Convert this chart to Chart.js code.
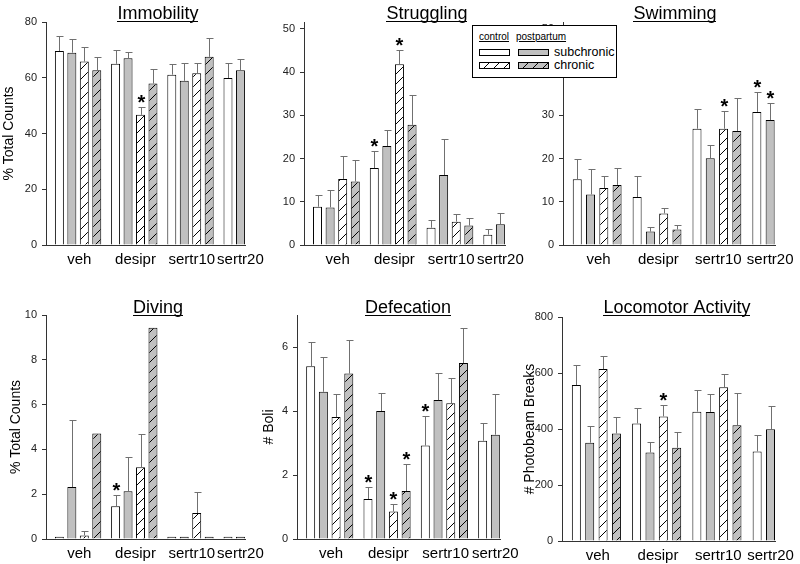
<!DOCTYPE html>
<html>
<head>
<meta charset="utf-8">
<script src="https://cdn.jsdelivr.net/npm/chart.js@4.4.1/dist/chart.umd.min.js"></script>
<style>
  body { margin: 0; background: #fff; width: 800px; height: 564px; position: relative; overflow: hidden;
         font-family: "Liberation Sans", Arial, sans-serif; }
  .panel { position: absolute; }
  #legend { position: absolute; left: 472px; top: 25px; width: 143px; height: 51px; border: 1px solid #000;
            background: #fff; z-index: 10; }
  #legend span { position: absolute; white-space: nowrap; line-height: 1; }
  #legend .hd { font-size: 10px; text-decoration: underline; top: 6px; }
  #legend .it { font-size: 12.5px; }
  #legend .sw { position: absolute; width: 29px; height: 5px; border: 1px solid #000; }
  .white { background: #fff; }
  .gray { background: #c0c0c0; }
  .whiteH { background: repeating-linear-gradient(135deg, #fff 0px, #fff 6px, #000 6px, #000 7.07px); }
  .grayH { background: repeating-linear-gradient(135deg, #c0c0c0 0px, #c0c0c0 6px, #000 6px, #000 7.07px); }
</style>
</head>
<body>
<div class="panel" style="left:0;top:0;width:270px;height:282px"><canvas id="immobility"></canvas></div>
<div class="panel" style="left:280px;top:0;width:250px;height:282px"><canvas id="struggling"></canvas></div>
<div class="panel" style="left:535px;top:0;width:265px;height:282px"><canvas id="swimming"></canvas></div>
<div class="panel" style="left:0;top:282px;width:270px;height:282px"><canvas id="diving"></canvas></div>
<div class="panel" style="left:255px;top:282px;width:270px;height:282px"><canvas id="defecation"></canvas></div>
<div class="panel" style="left:515px;top:282px;width:285px;height:282px"><canvas id="locomotor"></canvas></div>

<div id="legend">
  <span class="hd" style="left:6px">control</span>
  <span class="hd" style="left:43px">postpartum</span>
  <div class="sw white" style="left:6px;top:23px"></div>
  <div class="sw gray" style="left:45px;top:23px"></div>
  <span class="it" style="left:81px;top:20px">subchronic</span>
  <div class="sw whiteH" style="left:6px;top:36px"></div>
  <div class="sw grayH" style="left:45px;top:36px"></div>
  <span class="it" style="left:81px;top:33px">chronic</span>
</div>

<script>
const groups = ['veh', 'desipr', 'sertr10', 'sertr20'];
const seriesNames = ['control subchronic', 'postpartum subchronic', 'control chronic', 'postpartum chronic'];

// Immobility (% total counts)
const immCtrlSub = [69.6, 65.0, 61.1, 59.9];
const immPostSub = [69.0, 67.0, 58.9, 62.7];
const immCtrlChr = [65.8, 46.7, 61.6, null];
const immPostChr = [62.7, 57.9, 67.5, null];
const immSemCtrlSub = [5.4, 5.0, 3.7, 5.5];
const immSemPostSub = [4.8, 2.4, 6.5, 4.0];
const immSemCtrlChr = [5.4, 2.9, 3.8, null];
const immSemPostChr = [4.8, 5.3, 6.9, null];
const immSig = [[2, 1]]; // [series, group]

// Struggling
const strCtrlSub = [8.85, 17.8, 4.0, 2.4];
const strPostSub = [8.7, 22.9, 16.2, 4.8];
const strCtrlChr = [15.3, 41.8, 5.4, null];
const strPostChr = [14.7, 27.8, 4.5, null];
const strSemCtrlSub = [2.7, 4.0, 1.8, 1.4];
const strSemPostSub = [4.0, 3.8, 8.3, 2.7];
const strSemCtrlChr = [5.4, 3.4, 1.8, null];
const strSemPostChr = [4.9, 7.0, 1.7, null];
const strSig = [[0, 1], [2, 1]];

// Swimming
const swmCtrlSub = [15.2, 11.1, 26.9, 30.8];
const swmPostSub = [11.7, 3.1, 20.1, 28.9];
const swmCtrlChr = [13.2, 7.3, 26.9, null];
const swmPostChr = [13.9, 3.6, 26.4, null];
const swmSemCtrlSub = [4.7, 4.8, 4.6, 4.5];
const swmSemPostSub = [6.0, 1.1, 3.1, 3.9];
const swmSemCtrlChr = [2.7, 1.2, 4.1, null];
const swmSemPostChr = [3.9, 1.0, 7.6, null];
const swmSig = [[0, 3], [1, 3], [2, 2]];

// Diving
const divCtrlSub = [0.1, 1.46, 0.1, 0.1];
const divPostSub = [2.32, 2.13, 0.1, 0.1];
const divCtrlChr = [0.16, 3.2, 1.16, null];
const divPostChr = [4.71, 9.43, 0.1, null];
const divSemCtrlSub = [null, 0.51, null, null];
const divSemPostSub = [3.0, 1.52, null, null];
const divSemCtrlChr = [0.2, 1.5, 0.94, null];
const divSemPostChr = [null, null, null, null];
const divSig = [[0, 1]];

// Defecation (# boli)
const defCtrlSub = [5.40, 1.25, 2.92, 3.07];
const defPostSub = [4.6, 4.0, 4.34, 3.26];
const defCtrlChr = [3.81, 0.86, 4.24, null];
const defPostChr = [5.17, 1.5, 5.5, null];
const defSemCtrlSub = [0.77, 0.38, 0.92, 0.57];
const defSemPostSub = [1.1, 0.57, 0.86, 1.28];
const defSemCtrlChr = [0.73, 0.22, 0.8, null];
const defSemPostChr = [1.04, 0.85, 1.1, null];
const defSig = [[0, 1], [2, 1], [3, 1], [0, 2]];

// Locomotor activity (# photobeam breaks)
const locCtrlSub = [557, 420, 462, 320];
const locPostSub = [351, 316, 461, 399];
const locCtrlChr = [614, 445, 549, null];
const locPostChr = [384, 333, 413, null];
const locSemCtrlSub = [70, 56, 78, 60];
const locSemPostSub = [59, 39, 63, 82];
const locSemCtrlChr = [46, 41, 49, null];
const locSemPostChr = [60, 57, 114, null];
const locSig = [[2, 1]];

const FONT = '"Liberation Sans", Arial, sans-serif';
Chart.defaults.font.family = FONT;

// bar layout in units of one bar slot
const GROUP_STEP = 4.51;
const X_MIN = -1.074, X_MAX = 14.93;
const barX = (g, s) => g * GROUP_STEP + s;
const labelPos = groups.map((_, g) => g < 3 ? barX(g, 1.6) : barX(g, 1.0));

function hatch(bg) {
  const c = document.createElement('canvas');
  c.width = c.height = 10;
  const x = c.getContext('2d');
  x.fillStyle = bg;
  x.fillRect(0, 0, 10, 10);
  x.strokeStyle = '#000';
  x.lineWidth = 1;
  x.beginPath();
  x.moveTo(0, 10); x.lineTo(10, 0);
  x.moveTo(-1, 1); x.lineTo(1, -1);
  x.moveTo(9, 11); x.lineTo(11, 9);
  x.stroke();
  return x.createPattern(c, 'repeat');
}
const fills = ['#ffffff', '#c0c0c0', hatch('#ffffff'), hatch('#c0c0c0')];

// error bars, asterisks and underlined titles
const decoPlugin = {
  id: 'deco',
  afterDatasetsDraw(chart, args, opts) {
    const ctx = chart.ctx, y = chart.scales.y;
    ctx.save();
    chart.data.datasets.forEach((ds, i) => {
      chart.getDatasetMeta(i).data.forEach((bar, j) => {
        const v = ds.data[j].y;
        if (v == null) return;
        const cx = Math.round(bar.x) + 0.5;
        let top = bar.y;
        const sem = ds.sem[j];
        if (sem != null) {
          const ye = Math.round(y.getPixelForValue(v + sem)) + 0.5;
          ctx.strokeStyle = '#707070';
          ctx.lineWidth = 1;
          ctx.beginPath();
          ctx.moveTo(cx, bar.y);
          ctx.lineTo(cx, ye);
          ctx.moveTo(cx - 3, ye);
          ctx.lineTo(cx + 4, ye);
          ctx.stroke();
          top = ye;
        }
        if (ds.sig[j]) {
          ctx.fillStyle = '#000';
          ctx.font = 'bold 20px ' + FONT;
          ctx.textAlign = 'center';
          ctx.textBaseline = 'alphabetic';
          ctx.fillText('*', cx, top + 1);
        }
      });
    });
    ctx.fillStyle = '#000';
    ctx.font = '18px ' + FONT;
    ctx.textAlign = 'center';
    ctx.textBaseline = 'alphabetic';
    ctx.fillText(opts.title, opts.tx, opts.ty);
    const w = ctx.measureText(opts.title).width;
    ctx.fillRect(Math.round(opts.tx - w / 2), Math.round(opts.ty + 2), Math.round(w), 1);
    ctx.restore();
  }
};

function panel(id, p) {
  const datasets = p.values.map((vals, s) => ({
    label: seriesNames[s],
    data: vals.map((v, g) => ({ x: barX(g, s), y: v })),
    sem: p.sems[s],
    sig: vals.map((v, g) => p.sig.some(([ss, gg]) => ss === s && gg === g)),
    backgroundColor: fills[s],
    borderColor: '#000',
    borderWidth: 1,
    maxBarThickness: 9,
    grouped: false
  }));

  new Chart(document.getElementById(id), {
    type: 'bar',
    data: { datasets },
    plugins: [decoPlugin],
    options: {
      responsive: true,
      maintainAspectRatio: false,
      animation: false,
      layout: { padding: { left: 0, right: p.padR, top: p.padTop, bottom: 0 } },
      plugins: {
        legend: { display: false },
        tooltip: { enabled: false },
        deco: { title: p.title, tx: p.tx, ty: p.ty }
      },
      scales: {
        x: {
          type: 'linear',
          offset: false,
          min: X_MIN,
          max: X_MAX,
          afterFit(s) { s.height = p.xh; },
          afterBuildTicks(s) { s.ticks = labelPos.map(v => ({ value: v })); },
          ticks: {
            callback: (v, i) => groups[i],
            autoSkip: false, maxRotation: 0, padding: 6,
            font: { size: 15 }, color: '#000'
          },
          grid: { display: false, drawTicks: false },
          border: { display: true, color: '#333' }
        },
        y: {
          min: 0,
          max: p.yMax,
          afterFit(s) { s.width = p.yw; },
          ticks: { stepSize: p.yStep, includeBounds: false, padding: 5, font: { size: 11 }, color: '#222' },
          grid: { drawOnChartArea: false, drawTicks: true, tickLength: 4, color: '#333' },
          border: { display: true, color: '#333' },
          title: {
            display: !!p.yTitle, text: p.yTitle || '',
            font: { size: 14 }, color: '#000',
            padding: { top: p.yTitlePad || 0, bottom: 0 }
          }
        }
      }
    }
  });
}

panel('immobility', {
  title: 'Immobility', tx: 158, ty: 19,
  values: [immCtrlSub, immPostSub, immCtrlChr, immPostChr],
  sems: [immSemCtrlSub, immSemPostSub, immSemCtrlChr, immSemPostChr],
  sig: immSig, yMax: 80, yStep: 20, yTitle: '% Total Counts', yTitlePad: 1,
  yw: 46, padR: 8, padTop: 22, xh: 37
});
panel('struggling', {
  title: 'Struggling', tx: 147, ty: 19,
  values: [strCtrlSub, strPostSub, strCtrlChr, strPostChr],
  sems: [strSemCtrlSub, strSemPostSub, strSemCtrlChr, strSemPostChr],
  sig: strSig, yMax: 51.6, yStep: 10,
  yw: 24, padR: 10, padTop: 22, xh: 37
});
panel('swimming', {
  title: 'Swimming', tx: 140, ty: 19,
  values: [swmCtrlSub, swmPostSub, swmCtrlChr, swmPostChr],
  sems: [swmSemCtrlSub, swmSemPostSub, swmSemCtrlChr, swmSemPostChr],
  sig: swmSig, yMax: 51.6, yStep: 10,
  yw: 28, padR: 21, padTop: 22, xh: 37
});
panel('diving', {
  title: 'Diving', tx: 158, ty: 31,
  values: [divCtrlSub, divPostSub, divCtrlChr, divPostChr],
  sems: [divSemCtrlSub, divSemPostSub, divSemCtrlChr, divSemPostChr],
  sig: divSig, yMax: 10, yStep: 2, yTitle: '% Total Counts', yTitlePad: 8,
  yw: 46, padR: 8, padTop: 33, xh: 25
});
panel('defecation', {
  title: 'Defecation', tx: 153, ty: 31,
  values: [defCtrlSub, defPostSub, defCtrlChr, defPostChr],
  sems: [defSemCtrlSub, defSemPostSub, defSemCtrlChr, defSemPostChr],
  sig: defSig, yMax: 7, yStep: 2, yTitle: '# Boli', yTitlePad: 5.5,
  yw: 42, padR: 12, padTop: 33, xh: 25
});
panel('locomotor', {
  title: 'Locomotor Activity', tx: 162, ty: 31,
  values: [locCtrlSub, locPostSub, locCtrlChr, locPostChr],
  sems: [locSemCtrlSub, locSemPostSub, locSemCtrlChr, locSemPostChr],
  sig: locSig, yMax: 800, yStep: 200, yTitle: '# Photobeam Breaks', yTitlePad: 6.5,
  yw: 47, padR: 6, padTop: 35, xh: 23
});
</script>
</body>
</html>
